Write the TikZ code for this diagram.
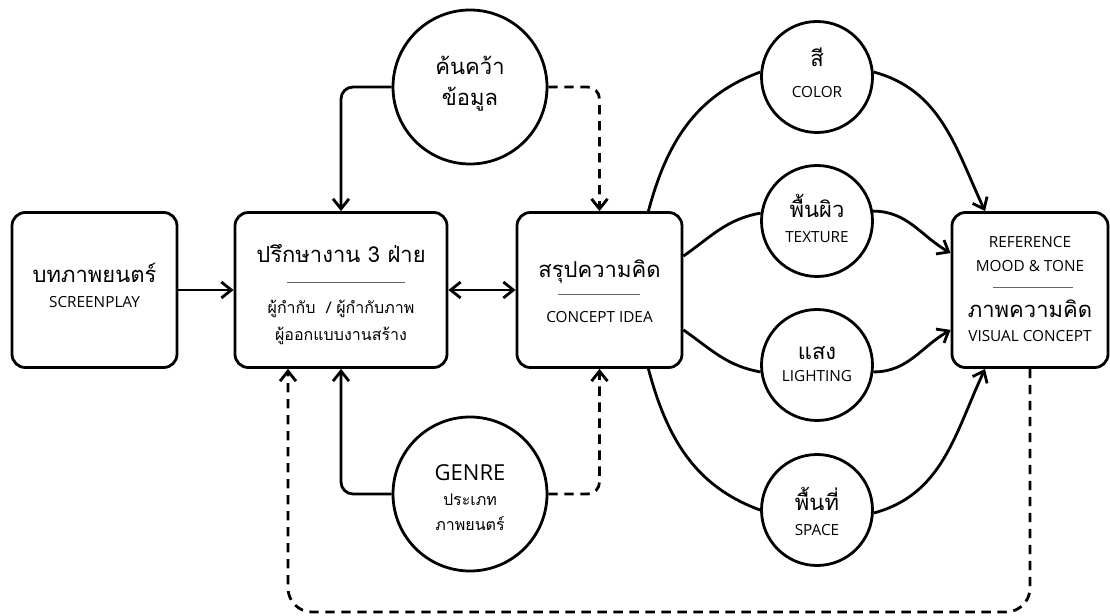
\documentclass[tikz,border=0pt]{standalone}
\usepackage{fontspec}
\setmainfont{Open Sans}
\newfontfamily\thfont[Script=Thai]{Loma}
\usetikzlibrary{arrows.meta}

\tikzset{
  box/.style={draw, line width=2.1pt, rounded corners=10pt, minimum height=116.25pt},
  bubble/.style={draw, circle, line width=2.1pt, inner sep=0pt},
  link/.style={line width=2.1pt, -{Straight Barb[length=7.5pt,width=12pt]}},
  twolink/.style={line width=2.1pt, {Straight Barb[length=7.5pt,width=12pt]}-{Straight Barb[length=7.5pt,width=12pt]}},
  dlink/.style={link, dash pattern=on 7pt off 5pt},
  curve/.style={line width=2.1pt},
  sepline/.style={draw=black!60, line width=0.7pt},
  thtitle/.style={anchor=base, inner sep=0pt, font=\thfont\fontsize{16.5}{19}\selectfont},
  thsmall/.style={anchor=base, inner sep=0pt, font=\thfont\fontsize{12}{15}\selectfont},
  ensmall/.style={anchor=base, inner sep=0pt, font=\fontsize{11.5}{14}\selectfont},
  entitle/.style={anchor=base, inner sep=0pt, font=\fontsize{16.5}{19}\selectfont},
}

\begin{document}
\begin{tikzpicture}[x=0.75pt,y=0.75pt,yscale=-1,xscale=1]
\useasboundingbox (0,0) rectangle (1110,616);

% Rounded Rect
\node[box, minimum width=123.75pt] (scr) at (94.5,290) {};
\node[box, minimum width=159pt] (consult) at (341,290) {};
\node[box, minimum width=123.75pt] (concept) at (599.5,290) {};
\node[box, minimum width=117pt] (ref) at (1030,290) {};

% Circles
\node[bubble, minimum size=115.5pt] (research) at (470,87) {};
\node[bubble, minimum size=115.5pt] (genre) at (470,494) {};
\node[bubble, minimum size=83.25pt] (color) at (817,77) {};
\node[bubble, minimum size=83.25pt] (texture) at (817,221) {};
\node[bubble, minimum size=83.25pt] (lighting) at (817,365) {};
\node[bubble, minimum size=83.25pt] (space) at (817,510) {};

% Text Node
\node[thtitle] (scrTh) at (94.5,283) {บทภาพยนตร์};
\node[ensmall] (scrEn) at (94.5,308) {SCREENPLAY};
% Text Node
\node[thtitle] (consultTh) at (341,263) {ปรึกษางาน 3 ฝ่าย};
\draw[sepline] (287,282) -- (405,282);
\node[thsmall] (consultA) at (341,314) {ผู้กำกับ\ \ / ผู้กำกับภาพ};
\node[thsmall] (consultB) at (341,341) {ผู้ออกแบบงานสร้าง};
% Text Node
\node[thtitle] (conceptTh) at (599.5,278) {สรุปความคิด};
\draw[sepline] (558,294) -- (640,294);
\node[ensmall] (conceptEn) at (599.5,323) {CONCEPT IDEA};
% Text Node
\node[ensmall] (refA) at (1030,248) {REFERENCE};
\node[ensmall] (refB) at (1030,272) {MOOD \& TONE};
\draw[sepline] (993,287) -- (1073,287);
\node[thtitle] (refTh) at (1030,318) {ภาพความคิด};
\node[ensmall] (refEn) at (1030,342) {VISUAL CONCEPT};
% Text Node
\node[thtitle] (researchA) at (470,75) {ค้นคว้า};
\node[thtitle] (researchB) at (470,106) {ข้อมูล};
\node[entitle] (genreEn) at (470,480) {GENRE};
\node[thsmall] (genreA) at (470,505) {ประเภท};
\node[thsmall] (genreB) at (470,530) {ภาพยนตร์};
\node[thtitle] (colorTh) at (817,67) {สี};
\node[ensmall] (colorEn) at (817,98) {COLOR};
\node[thtitle] (textureTh) at (817,218) {พื้นผิว};
\node[ensmall] (textureEn) at (817,243) {TEXTURE};
\node[thtitle] (lightingTh) at (817,360) {แสง};
\node[ensmall] (lightingEn) at (817,382) {LIGHTING};
\node[thtitle] (spaceTh) at (817,510) {พื้นที่};
\node[ensmall] (spaceEn) at (817,535) {SPACE};

\coordinate (loop) at (288,612);

% Straight Lines
\draw[link] (scr) -- (consult);
\draw[twolink] (consult) -- (concept);
\draw[link, rounded corners=9pt] (research.west) -| (consult.north);
\draw[dlink, rounded corners=9pt] (research.east) -| (concept.north);
\draw[link, rounded corners=9pt] (genre.west) -| (consult.south);
\draw[dlink, rounded corners=9pt] (genre.east) -| (concept.south);
\draw[dlink, rounded corners=18pt] (ref.south) |- (loop) -- (loop |- consult.south);

% Curves out of the concept box
\draw[curve] ([xshift=-26.25pt]concept.north east) to[out=-75,in=160] (color.175);
\draw[curve] ([yshift=33.75pt]concept.north east) to[out=-35,in=170] (texture.172);
\draw[curve] ([yshift=-29.25pt]concept.south east) to[out=35,in=190] (lighting.187);
\draw[curve] ([xshift=-26.25pt]concept.south east) to[out=75,in=200] (space.180);

% Curves into the reference box
\draw[link] (color.5) to[out=15,in=-115] ([xshift=-33.75pt]ref.north);
\draw[link] (texture.10) to[out=0,in=210] ([yshift=31.5pt]ref.north west);
\draw[link] (lighting.-7) to[out=0,in=150] ([yshift=-29.25pt]ref.south west);
\draw[link] (space.-3) to[out=-15,in=115] ([xshift=-33.75pt]ref.south);

\end{tikzpicture}
\end{document}
